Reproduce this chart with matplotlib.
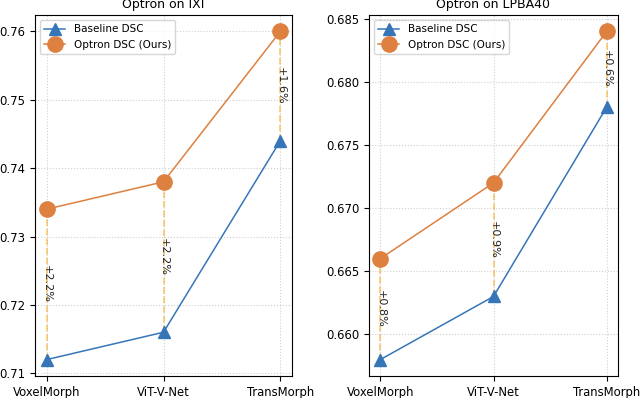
import numpy as np
import matplotlib.pyplot as plt

# data
methods = ['VoxelMorph', 'ViT-V-Net', 'TransMorph']
ixi_base = [0.712, 0.716, 0.744]
ixi_ours = [0.734, 0.738, 0.760]
ixi_gain = ['+2.2%', '+2.2%', '+1.6%']
lpba_base = [0.658, 0.663, 0.678]
lpba_ours = [0.666, 0.672, 0.684]
lpba_gain = ['+0.8%', '+0.9%', '+0.6%']

blue = '#3676b8'
orange = '#dd8040'

fig = plt.figure(figsize=(6.4, 3.98), dpi=100)
ax1 = fig.add_axes([35/640, 22/398, 257/640, 361/398])
ax2 = fig.add_axes([369/640, 22/398, 249/640, 361/398])

def draw(ax, base, ours, gain, title):
    x = np.arange(len(methods))
    for i in x:
        ax.plot([i, i], [base[i], ours[i]], ls='--', color='orange', alpha=0.55, lw=1.3, zorder=1)
        ax.text(i, (base[i] + ours[i]) / 2, gain[i], rotation=-90, ha='center', va='center',
                fontsize=8, color='#222222', zorder=3)
    ax.plot(x, base, marker='^', ms=9, color=blue, lw=1.1, label='Baseline DSC', zorder=2)
    ax.plot(x, ours, marker='o', ms=11, color=orange, lw=1.1, label='Optron DSC (Ours)', zorder=2)
    ax.set_xticks(x)
    ax.set_xticklabels(methods, fontsize=8.4)
    ax.tick_params(axis='y', labelsize=8.4)
    ax.grid(True, ls=':', alpha=0.6)
    ax.set_title(title, fontsize=9, pad=5)
    ax.legend(loc='upper left', fontsize=7.5)

draw(ax1, ixi_base, ixi_ours, ixi_gain, 'Optron on IXI')
draw(ax2, lpba_base, lpba_ours, lpba_gain, 'Optron on LPBA40')

plt.savefig('out.png', dpi=100)
